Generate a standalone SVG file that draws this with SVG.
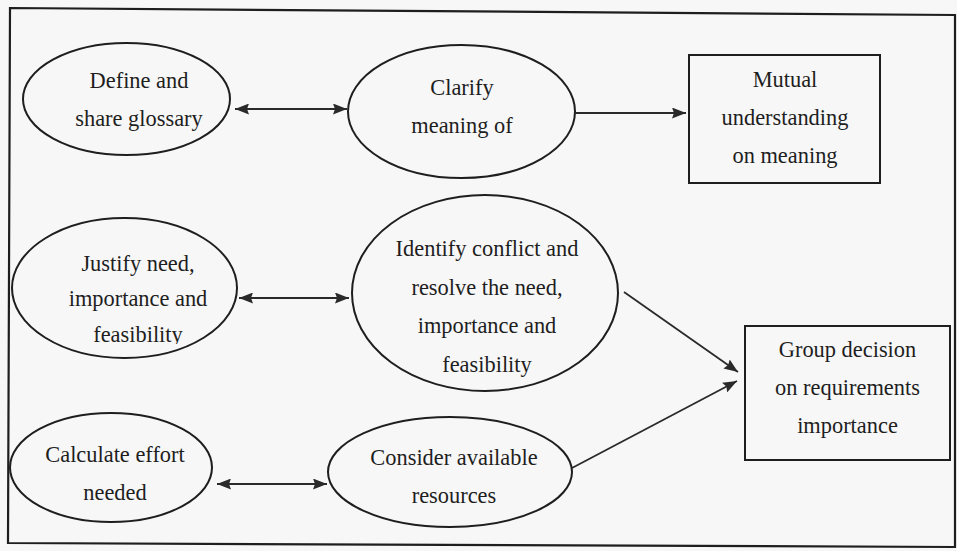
<svg xmlns="http://www.w3.org/2000/svg" width="957" height="551" viewBox="0 0 957 551">
<style>
.shape{fill:none;stroke:#1e1e1e;stroke-width:2}
.frame{fill:none;stroke:#1e1e1e;stroke-width:2.2}
.t{font-family:"Liberation Serif","Times New Roman",serif;font-size:22.4px;fill:#1e1e1e;text-anchor:middle}
.c{fill:none;stroke:#2a2a2a;stroke-width:1.8}
</style>
<defs>
<marker id="ah" viewBox="0 0 14 11" refX="14" refY="5.5" markerWidth="14" markerHeight="11" markerUnits="userSpaceOnUse" orient="auto-start-reverse">
<path d="M0,0 L14,5.5 L0,11 L2,5.5 z" fill="#2a2a2a"/>
</marker>
<clipPath id="clipFeas"><rect x="0" y="200" width="300" height="144"/></clipPath>
</defs>
<rect x="0" y="0" width="957" height="551" fill="#f7f7f7"/>
<polygon class="frame" points="10,8 955,15 955,547 8,543"/>

<g id="define-glossary">
<ellipse class="shape" cx="126.5" cy="99" rx="103.5" ry="56"/>
<text class="t" x="139" y="88">Define and</text>
<text class="t" x="139" y="126">share glossary</text>
</g>
<g id="clarify-meaning">
<ellipse class="shape" cx="461.5" cy="111.5" rx="113.5" ry="66.5"/>
<text class="t" x="462" y="95">Clarify</text>
<text class="t" x="462" y="133">meaning of</text>
</g>
<g id="mutual-understanding">
<rect class="shape" x="689" y="55" width="191" height="128"/>
<text class="t" x="785" y="87">Mutual</text>
<text class="t" x="785" y="125">understanding</text>
<text class="t" x="785" y="163">on meaning</text>
</g>
<g id="justify-need">
<ellipse class="shape" cx="124.5" cy="288" rx="112.5" ry="70"/>
<text class="t" x="138" y="271">Justify need,</text>
<text class="t" x="138" y="306">importance and</text>
<text class="t" x="138" y="342" clip-path="url(#clipFeas)">feasibility</text>
</g>
<g id="identify-conflict">
<ellipse class="shape" cx="485" cy="293" rx="133" ry="98"/>
<text class="t" x="487" y="256">Identify conflict and</text>
<text class="t" x="487" y="295">resolve the need,</text>
<text class="t" x="487" y="333">importance and</text>
<text class="t" x="487" y="372">feasibility</text>
</g>
<g id="group-decision">
<rect class="shape" x="745" y="326" width="205" height="134"/>
<text class="t" x="847.5" y="357">Group decision</text>
<text class="t" x="847.5" y="395">on requirements</text>
<text class="t" x="847.5" y="433">importance</text>
</g>
<g id="calculate-effort">
<ellipse class="shape" cx="111" cy="467.5" rx="101" ry="54.5"/>
<text class="t" x="115" y="462">Calculate effort</text>
<text class="t" x="115" y="500">needed</text>
</g>
<g id="consider-resources">
<ellipse class="shape" cx="450" cy="472" rx="122" ry="55"/>
<text class="t" x="454" y="465">Consider available</text>
<text class="t" x="454" y="503">resources</text>
</g>

<g id="connectors">
<line class="c" x1="235" y1="109" x2="347" y2="109" marker-start="url(#ah)" marker-end="url(#ah)"/>
<line class="c" x1="575" y1="113" x2="686" y2="113" marker-end="url(#ah)"/>
<line class="c" x1="239" y1="298" x2="349" y2="298" marker-start="url(#ah)" marker-end="url(#ah)"/>
<line class="c" x1="624" y1="292" x2="738" y2="372" marker-end="url(#ah)"/>
<line class="c" x1="572" y1="468" x2="737" y2="381" marker-end="url(#ah)"/>
<line class="c" x1="217" y1="484" x2="327" y2="484" marker-start="url(#ah)" marker-end="url(#ah)"/>
</g>
</svg>
